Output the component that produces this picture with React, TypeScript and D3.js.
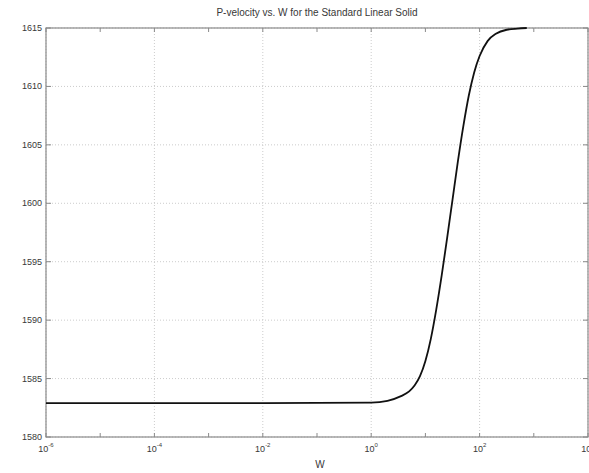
import React from 'react'
import * as d3 from 'd3'

// log10(W) sample positions and P-velocity
const logW = [-6, -2, 0, 0.3, 0.55, 0.7, 0.8, 0.9, 1.0, 1.1, 1.2, 1.3, 1.4, 1.5, 1.6, 1.7, 1.8, 1.9, 2.0, 2.15, 2.3, 2.5, 2.7, 2.87]
const velocity = [1582.9, 1582.9, 1582.95, 1583.1, 1583.5, 1583.9, 1584.4, 1585.2, 1586.5, 1588.4, 1590.9, 1593.8, 1597.0, 1600.3, 1603.6, 1606.6, 1609.2, 1611.2, 1612.6, 1613.9, 1614.5, 1614.85, 1614.95, 1615.0]
const xTickExps = [-6, -4, -2, 0, 2, 4]
const xMinorExps = [-5, -3, -1, 1, 3]
const yTicks = [1580, 1585, 1590, 1595, 1600, 1605, 1610, 1615]

const width = 589
const height = 473
const margin = { left: 46, top: 28, right: 1, bottom: 36 }

const App = () => {
  const innerW = width - margin.left - margin.right
  const innerH = height - margin.top - margin.bottom

  const x = d3.scaleLog().domain([1e-6, 1e4]).range([0, innerW])
  const y = d3.scaleLinear().domain([1580, 1615]).range([innerH, 0])

  const pts: [number, number][] = logW.map((e, i) => [Math.pow(10, e), velocity[i]])
  const line = d3.line<[number, number]>()
    .x(d => x(d[0]))
    .y(d => y(d[1]))
    .curve(d3.curveMonotoneX)

  const axisColor = '#8a8a8a'
  const gridColor = '#cccccc'
  const textColor = '#383838'
  const font = 'Liberation Sans, Arial, sans-serif'

  return (
    <div style={{ position: 'absolute', left: 0, top: 0 }}>
      <svg width={width} height={height} style={{ display: 'block', background: '#fff' }}>
        <text x={317} y={16} textAnchor="middle" fontFamily={font} fontSize={10} fill={textColor}>
          P-velocity vs. W for the Standard Linear Solid
        </text>
        <g transform={`translate(${margin.left},${margin.top})`}>
          {/* grid */}
          {xTickExps.map(e => (
            <line key={'gx' + e} x1={x(Math.pow(10, e))} x2={x(Math.pow(10, e))} y1={0} y2={innerH}
              stroke={gridColor} strokeDasharray="1,2" />
          ))}
          {yTicks.map(v => (
            <line key={'gy' + v} x1={0} x2={innerW} y1={y(v)} y2={y(v)}
              stroke={gridColor} strokeDasharray="1,2" />
          ))}
          {/* box */}
          <rect x={0} y={0} width={innerW} height={innerH} fill="none" stroke={axisColor} strokeWidth={1.2} />
          {/* ticks */}
          {xTickExps.concat(xMinorExps).map(e => {
            const px = x(Math.pow(10, e))
            return (
              <g key={'tx' + e}>
                <line x1={px} x2={px} y1={innerH} y2={innerH - 4} stroke={axisColor} />
                <line x1={px} x2={px} y1={0} y2={4} stroke={axisColor} />
              </g>
            )
          })}
          {yTicks.map(v => (
            <g key={'ty' + v}>
              <line x1={0} x2={5} y1={y(v)} y2={y(v)} stroke={axisColor} />
              <line x1={innerW} x2={innerW - 5} y1={y(v)} y2={y(v)} stroke={axisColor} />
              <text x={-4} y={y(v) + 3} textAnchor="end" fontFamily={font} fontSize={9} fill={textColor}>{v}</text>
            </g>
          ))}
          {xTickExps.map(e => (
            <text key={'lx' + e} x={x(Math.pow(10, e))} y={innerH + 15} textAnchor="middle"
              fontFamily={font} fontSize={9} fill={textColor}>
              10<tspan dy={-5} fontSize={6}>{e}</tspan>
            </text>
          ))}
          <text x={274} y={innerH + 31} textAnchor="middle" fontFamily={font} fontSize={10} fill={textColor}>W</text>
          {/* curve */}
          <path d={line(pts) || ''} fill="none" stroke="#111" strokeWidth={1.8} />
        </g>
      </svg>
    </div>
  )
}

export default App
